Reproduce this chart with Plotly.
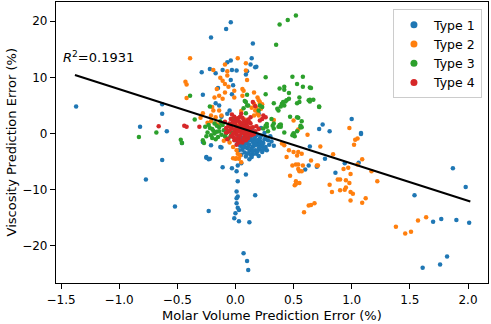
import plotly.graph_objects as go

# ---- data ----
type1_x = [-1.37, -0.82, -0.63, -0.63, -0.59, -0.46, -0.29, -0.22, -0.21, -0.04, -0.08, -0.28, -0.28,
           -0.07, -0.04, 0.10, 0.09, -0.13, -0.63, -0.25, -0.22, -0.77, -0.52, -0.23, -0.11, -0.03,
           0.01, 0.02, 0.05, 0.09, 0.02, 0.01, 0.02, 0.01, 0.17, 0.01, 0.02, 0.03, 0.00, -0.01, 0.03,
           0.12, 0.07, 0.10, 0.11,
           1.00, 1.08, 1.08, 0.94, 1.06, 1.87, 1.98, 1.54, 1.70, 1.77, 1.90, 2.01, 1.82, 1.76, 1.61,
           0.72, 0.75, 0.81, 0.64, 0.70, 0.63, 0.60, 0.77, 0.86, 0.15,
           -0.17, -0.11, -0.03, 0.01, -0.04, -0.02, -0.03, -0.15, 0.15, 0.14, 0.13, 0.17, 0.18,
           -0.17, -0.14, -0.07, -0.05, -0.21, -0.12, -0.25, -0.23,
           0.03, 0.05, 0.07, 0.09, 0.11, 0.13, 0.15, 0.17, 0.19, 0.21, 0.04, 0.06, 0.08, 0.10, 0.12,
           0.14, 0.16, 0.18, 0.20, 0.22, 0.24, 0.26, 0.02, 0.09, 0.13, 0.17, 0.11, 0.07, 0.15, 0.19,
           0.23, 0.05, 0.12, 0.08, 0.16, 0.28, 0.25, 0.21, 0.14, 0.10, 0.18, 0.06, 0.27, 0.20, 0.30,
           0.33, 0.04, 0.22, 0.14, 0.00, -0.12, 0.20,
           0.05, 0.08, 0.10, 0.12, 0.13, 0.15, 0.16, 0.18, 0.20, 0.22, 0.23, 0.25, 0.07, 0.09, 0.11,
           0.17, 0.19, 0.24, 0.14, 0.26, 0.29, 0.06, 0.03, 0.21, 0.31]
type1_y = [4.8, 1.2, 5.2, 3.5, 0.4, -1.7, 10.9, 11.5, 17.1, 19.8, 18.6, 6.9, -1.5,
           12.7, 13.0, 11.1, 10.5, -2.4, -4.7, -4.2, -4.5, -8.2, -13.0, -13.8, -6.0, -6.2,
           -6.7, -5.7, -5.3, -7.3, -8.5, -10.3, -11.2, -11.5, -11.0, -12.4, -13.2, -13.6, -14.2, -15.1, -15.6,
           -15.8, -21.3, -22.7, -24.3,
           2.6, 0.1, -0.1, -5.3, -5.2, -6.2, -9.5, -11.0, -15.7, -15.2, -15.4, -15.9, -21.9, -23.3, -23.9,
           0.8, 1.6, 0.4, -2.3, -5.9, -5.7, -6.4, -4.5, -7.0, -3.7,
           10.7, 11.3, 11.3, 11.2, 9.5, 8.6, 7.0, 8.1, 16.0, 13.4, 12.3, 11.8, 11.9,
           5.4, 5.0, 3.5, 4.1, -2.1, -2.5, -4.3, -4.6,
           -0.5, -1.0, -1.4, -0.8, -1.9, -1.2, -2.3, -0.6, -1.6, -2.8, -2.2, -2.9, -3.4, -2.6, -3.1,
           -0.2, -1.0, -2.0, -1.1, -0.4, -1.7, -2.4, -1.6, -4.1, -3.8, -3.0, -0.3, -2.0, -1.5, -0.2,
           -3.3, -3.8, -4.6, 0.2, 0.3, -1.2, 0.1, -2.0, -2.7, -1.3, -3.6, -0.7, -3.0, -4.0, -0.5,
           -2.2, 0.8, 1.0, 0.7, 2.5, 3.0, 3.5,
           -1.8, -2.4, -3.6, -2.0, -0.7, -3.2, -2.2, -1.3, -2.6, -1.5, -2.3, -1.0, -1.1, -1.7, -2.4,
           -1.9, -3.2, -2.9, -4.2, -0.6, -2.0, -2.5, -3.0, -0.9, -1.4]

type2_x = [-0.39, -0.43, -0.42, -0.42, -0.19, -0.11, -0.07, 0.02, -0.09, -0.07, -0.13, -0.06, -0.01,
           -0.09, -0.09, -0.16, 0.06, 0.10, -0.14, -0.11, -0.18, -0.01, 0.09, 0.09, 0.07, 0.06, 0.16,
           0.19, 0.20, 0.16, 0.21, 0.22, 0.18, 0.14, 0.17, 0.19, 0.16, 0.20, 0.21, 0.23,
           -0.20, -0.19, -0.21, -0.17, -0.14, -0.12, -0.21, -0.17, -0.24, -0.15, -0.28, -0.30,
           -0.02, 0.01, 0.02, 0.03, 0.00, 0.01, -0.02, 0.04, -0.05, -0.08, -0.10, 0.05,
           0.05, 0.08, 0.12, 0.03, 0.10,
           0.50, 0.62, 0.40, 0.42, 0.50, 0.54, 0.57, 0.53, 0.73, 0.65, 0.49, 0.52, 0.54, 0.58, 0.54,
           0.55, 0.57, 0.47, 0.52, 0.51, 0.52, 0.55, 0.70, 0.71, 0.59, 0.63, 0.65, 0.68, 0.84, 0.81,
           0.83, 0.88, 0.90, 0.90, 0.94, 0.95, 0.93, 0.97, 0.99, 0.95, 0.98, 0.99, 1.01, 0.99, 1.05,
           1.09, 1.17, 1.22, 1.09, 1.12, 1.38, 1.46, 1.51, 1.57, 1.64, 0.54, 0.98, 1.03, 1.05, 1.02,
           0.33, 0.46, 0.44]
type2_y = [13.4, 9.2, 8.7, 6.3, 11.3, 9.4, 11.1, 13.4, 12.3, 10.3, 9.9, 8.3, 7.6,
           8.8, 7.3, 7.9, 7.9, 9.5, 6.7, 6.2, 6.4, 6.4, 12.5, 11.2, 7.6, 6.7, 7.3,
           6.4, 5.9, 5.3, 5.3, 4.4, 4.6, 4.6, 4.1, 3.5, 3.2, 3.2, 5.6, 5.2,
           4.7, 4.1, 3.2, 2.9, 4.1, 3.2, 2.2, 1.8, 1.9, 1.5, 3.6, 2.8,
           -2.4, -3.0, -3.6, -4.5, -4.5, -4.4, -4.4, -3.9, -1.6, -0.9, -1.3, -5.1,
           4.0, 2.5, 1.9, 1.5, 0.5,
           2.3, -0.2, -1.8, -2.1, -3.3, -3.3, -3.6, -3.9, -2.3, -4.8, -5.7, -5.5, -5.5, -5.7, -6.3,
           -6.7, -6.7, -7.5, -8.5, -9.2, -9.0, -8.8, -5.7, -5.7, -14.0, -12.8, -12.7, -12.4, -3.7, -9.1,
           -10.4, -8.2, -8.2, -10.1, -10.0, -9.6, -6.3, -6.1, -7.2, -8.3, -8.8, -10.4, -10.7, -11.9, -5.5,
           -4.6, -6.7, -8.5, -12.3, -11.5, -16.6, -17.8, -17.5, -15.5, -14.9, 0.7, 1.0, -1.1, -0.9, -2.0,
           2.4, -3.0, -4.2]

type3_x = [0.52, 0.45, 0.38, 0.35, 0.26, 0.49, 0.58, 0.53, 0.58, 0.64, 0.42, 0.38, 0.42, 0.46, 0.26,
           0.46, 0.55, 0.64, 0.67, 0.65, 0.72, 0.63, 0.55, 0.36, 0.37, 0.41, 0.42, 0.44, 0.31, 0.47,
           0.54, 0.57, 0.56, 0.37, 0.39, 0.33, 0.24, 0.27, 0.28, 0.50, 0.51, 0.07, 0.08, 0.10, 0.09,
           0.10, 0.09, 0.11,
           -0.83, -0.68, -0.47, -0.46, -0.35, -0.26, -0.28, -0.27, -0.22, -0.39,
           -0.23, -0.20, -0.18, -0.16, -0.14, -0.12, -0.21, -0.19, -0.15, -0.10, -0.11, -0.08, -0.07,
           -0.04, -0.03, -0.06, -0.03, -0.13, -0.17, -0.24, -0.05,
           0.26, 0.27, 0.32, 0.33, 0.38, 0.39, 0.42, 0.50, 0.49, 0.53,
           0.33, 0.40, 0.43, 0.53, 0.64, 0.72, 0.39, 0.53, 0.56, 0.57, 0.21, 0.23, 0.20,
           -0.22, -0.18, -0.14, -0.12, -0.09, -0.20, -0.16, -0.25]
type3_y = [21.0, 20.2, 19.4, 15.8, 10.0, 10.1, 10.1, 8.8, 8.3, 8.2, 8.3, 8.0, 7.8, 7.2, 7.0,
           6.2, 6.4, 6.0, 6.0, 8.1, 4.7, 5.9, 5.6, 4.4, 4.1, 5.6, 5.0, 5.9, 2.6, 3.0,
           2.8, 2.2, 1.1, 1.2, 1.6, 0.9, 0.9, 1.2, 0.4, 0.0, -0.5, 4.5, 5.8, 6.9, 3.6,
           5.0, 5.6, 5.0,
           -0.6, 0.2, -1.1, -1.7, 2.5, 1.2, -1.2, -1.7, 4.8, 6.7,
           1.5, 0.8, 1.8, 0.3, 1.1, -0.2, -0.3, 0.5, -0.6, 0.6, 1.5, 0.0, 0.5,
           -0.4, 0.2, -0.9, 2.6, 2.2, -1.0, 0.2, 1.3,
           1.4, 1.7, 1.4, 1.8, 1.5, 1.2, 0.2, 0.0, -0.3, 0.4,
           5.4, 5.3, 5.7, 5.4, 5.7, 4.8, 4.8, 2.9, 1.4, 1.1, 5.0, 4.7, 4.1,
           1.0, 0.0, 0.4, 1.8, -0.5, -0.8, 1.4, -0.5]

type4_x = [-0.66, -0.44, -0.42, -0.31, -0.03, 0.04, 0.24, 0.26, 0.23, 0.21, 0.15, 0.17, 0.14, 0.17, 0.16,
           -0.08, -0.06, -0.05, -0.04, -0.03, -0.02, -0.01, 0.00, 0.00, 0.01, 0.02, 0.02, 0.03, 0.04,
           0.05, 0.05, 0.06, 0.07, 0.07, 0.08, 0.09, 0.10, 0.10, 0.11, 0.12, 0.13, 0.14, -0.02, 0.03,
           0.06, -0.07, 0.01, 0.04, 0.08, 0.11, -0.04, 0.09, 0.02, 0.06, -0.01, 0.05, 0.12, 0.18, 0.20,
           -0.09, 0.03, 0.13,
           -0.06, -0.05, -0.03, -0.02, -0.01, 0.00, 0.00, 0.01, 0.02, 0.02, 0.03, 0.04, 0.04, 0.05, 0.06,
           0.07, 0.07, 0.08, 0.08, 0.09, 0.10, 0.10, 0.11, 0.12, 0.13, -0.04, 0.01, 0.06, -0.08, 0.15]
type4_y = [1.3, 1.4, 1.2, 1.2, 3.4, 3.0, 3.2, 2.9, 2.6, 2.3, 5.6, 4.9, 0.2, 0.4, -0.1,
           1.0, 0.3, 1.8, -0.5, 0.9, 2.2, -1.2, 0.4, 1.5, -0.2, 2.7, 0.8, -0.9, 1.9,
           0.1, 1.2, -1.6, 2.4, 0.6, -0.4, 1.5, 0.3, 2.0, -0.8, 1.0, 1.8, -0.3, 0.0, 0.5,
           1.5, -1.0, -2.0, -1.3, 0.9, 2.5, 1.3, -1.2, 1.2, 0.2, 3.0, 3.5, 0.0, 1.3, 0.8,
           2.1, -1.6, 2.9,
           1.4, 0.6, 1.7, -0.6, 0.7, 2.0, -0.9, 1.1, 0.3, -1.3, 2.2, 0.9, -0.4, 1.8, 0.7,
           -0.9, 1.2, 2.1, 0.1, 0.8, -0.3, 1.3, 0.4, 2.0, 0.6, 2.6, 2.5, 2.8, 0.2, 1.1]

fit_x = [-1.38, 2.02]
fit_y = [10.4, -12.1]
r2_text = "0.1931"

series_names = ["Type 1", "Type 2", "Type 3", "Type 4"]
series_colors = ["#1f77b4", "#ff7f0e", "#2ca02c", "#d62728"]

x_ticks = [-1.5, -1.0, -0.5, 0.0, 0.5, 1.0, 1.5, 2.0]
y_ticks = [-20, -10, 0, 10, 20]
x_title = "Molar Volume Prediction Error (%)"
y_title = "Viscosity Prediction Error (%)"

FONT = "DejaVu Sans"

fig = go.Figure()
all_x = [type1_x, type2_x, type3_x, type4_x]
all_y = [type1_y, type2_y, type3_y, type4_y]
for name, color, xs, ys in zip(series_names, series_colors, all_x, all_y):
    fig.add_trace(go.Scatter(x=xs, y=ys, mode="markers", name=name, showlegend=False,
                             marker=dict(color=color, size=4.5, line=dict(width=0))))
# legend entries with larger symbols
for name, color in zip(series_names, series_colors):
    fig.add_trace(go.Scatter(x=[None], y=[None], mode="markers", name=name,
                             marker=dict(color=color, size=7, line=dict(width=0))))

fig.add_trace(go.Scatter(x=fit_x, y=fit_y, mode="lines", showlegend=False,
                         line=dict(color="black", width=2)))

fig.add_annotation(x=-1.5, y=13.7, xref="x", yref="y", xanchor="left", yanchor="middle",
                   text="<i>R</i><sup>2</sup>=" + r2_text, showarrow=False,
                   font=dict(family=FONT, size=13, color="black"))

# axis titles placed as annotations for exact positioning
fig.add_annotation(x=0.5, y=-0.114, xref="paper", yref="paper", xanchor="center", yanchor="middle",
                   text=x_title, showarrow=False,
                   font=dict(family=FONT, size=13, color="black"))
fig.add_annotation(x=-0.102, y=0.5, xref="paper", yref="paper", xanchor="center", yanchor="middle",
                   text=y_title, showarrow=False, textangle=-90,
                   font=dict(family=FONT, size=13, color="black"))

axis_common = dict(showline=True, linecolor="black", linewidth=1.2, mirror=True,
                   ticks="outside", ticklen=5, tickwidth=1.2, tickcolor="black",
                   showgrid=False, zeroline=False, automargin=False,
                   tickfont=dict(family=FONT, size=12, color="black"))
fig.update_xaxes(range=[-1.543, 2.172], tickvals=x_ticks, tickformat=".1f", **axis_common)
fig.update_yaxes(range=[-26.6, 23.4], tickvals=y_ticks, **axis_common)

fig.update_layout(
    width=491, height=324,
    margin=dict(l=56, r=3, t=2, b=41, autoexpand=False),
    plot_bgcolor="white", paper_bgcolor="white",
    font=dict(family=FONT, size=12, color="black"),
    legend=dict(x=0.986, y=0.975, xanchor="right", yanchor="top",
                bgcolor="white", bordercolor="#cccccc", borderwidth=1,
                font=dict(family=FONT, size=12.5, color="black"),
                itemwidth=30),
)

fig.write_html("out.html", config={"displayModeBar": False},
               post_script="document.body.style.margin='0';document.body.style.overflow='hidden';")
